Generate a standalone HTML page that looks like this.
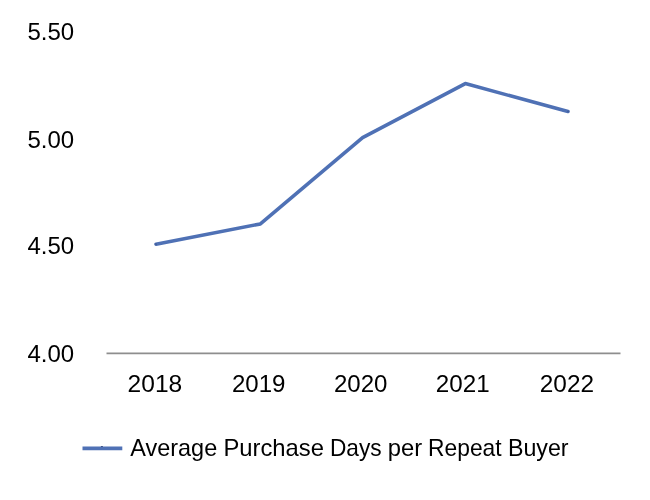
<!DOCTYPE html>
<html>
<head>
<meta charset="utf-8">
<title>Average Purchase Days per Repeat Buyer</title>
<style>
  html, body { margin: 0; padding: 0; background: #ffffff; }
  body { width: 650px; height: 500px; overflow: hidden; }
  svg { display: block; }
  text { font-family: "Liberation Sans", sans-serif; font-size: 24px; fill: #000000; }
</style>
</head>
<body>
<svg width="650" height="500" viewBox="0 0 650 500">
  <rect x="0" y="0" width="650" height="500" fill="#ffffff"/>
  <!-- y axis labels -->
  <g id="ylabels" text-anchor="end">
    <text x="74.2" y="40.0">5.50</text>
    <text x="74.2" y="148.4">5.00</text>
    <text x="74.2" y="254.3">4.50</text>
    <text x="74.2" y="362.2">4.00</text>
  </g>
  <!-- x axis line -->
  <line x1="106.5" y1="353.4" x2="620.5" y2="353.4" stroke="#8e8e8e" stroke-width="1.8"/>
  <!-- x axis labels -->
  <g id="xlabels">
    <text x="127.6" y="392.2" textLength="54.6" lengthAdjust="spacingAndGlyphs">2018</text>
    <text x="231.9" y="392.2" textLength="53.5" lengthAdjust="spacingAndGlyphs">2019</text>
    <text x="333.9" y="392.2" textLength="53.5" lengthAdjust="spacingAndGlyphs">2020</text>
    <text x="435.8" y="392.2" textLength="53.8" lengthAdjust="spacingAndGlyphs">2021</text>
    <text x="539.8" y="392.2" textLength="54.3" lengthAdjust="spacingAndGlyphs">2022</text>
  </g>
  <!-- series -->
  <polyline points="156.0,244.2 260.4,223.9 362.6,137.7 465.3,83.6 568.0,111.5"
            fill="none" stroke="#4f71b5" stroke-width="3.6" stroke-linecap="round" stroke-linejoin="round"/>
  <circle cx="156.0" cy="244.2" r="1.1" fill="#44619f"/>
  <circle cx="568.0" cy="111.5" r="1.1" fill="#44619f"/>
  <!-- legend -->
  <line x1="82.5" y1="448.4" x2="122.3" y2="448.4" stroke="#4f71b5" stroke-width="3.8"/>
  <rect x="100.9" y="446.1" width="2" height="0.9" fill="#344a80"/>
  <text id="legend" y="456.4"><tspan x="130.3" textLength="86.9" lengthAdjust="spacingAndGlyphs">Average</tspan> <tspan x="223.4" textLength="100.6" lengthAdjust="spacingAndGlyphs">Purchase</tspan> <tspan x="329.9" textLength="51.7" lengthAdjust="spacingAndGlyphs">Days</tspan> <tspan x="387.8" textLength="34.4" lengthAdjust="spacingAndGlyphs">per</tspan> <tspan x="428.1" textLength="73.5" lengthAdjust="spacingAndGlyphs">Repeat</tspan> <tspan x="507.9" textLength="60.7" lengthAdjust="spacingAndGlyphs">Buyer</tspan></text>
</svg>
</body>
</html>
